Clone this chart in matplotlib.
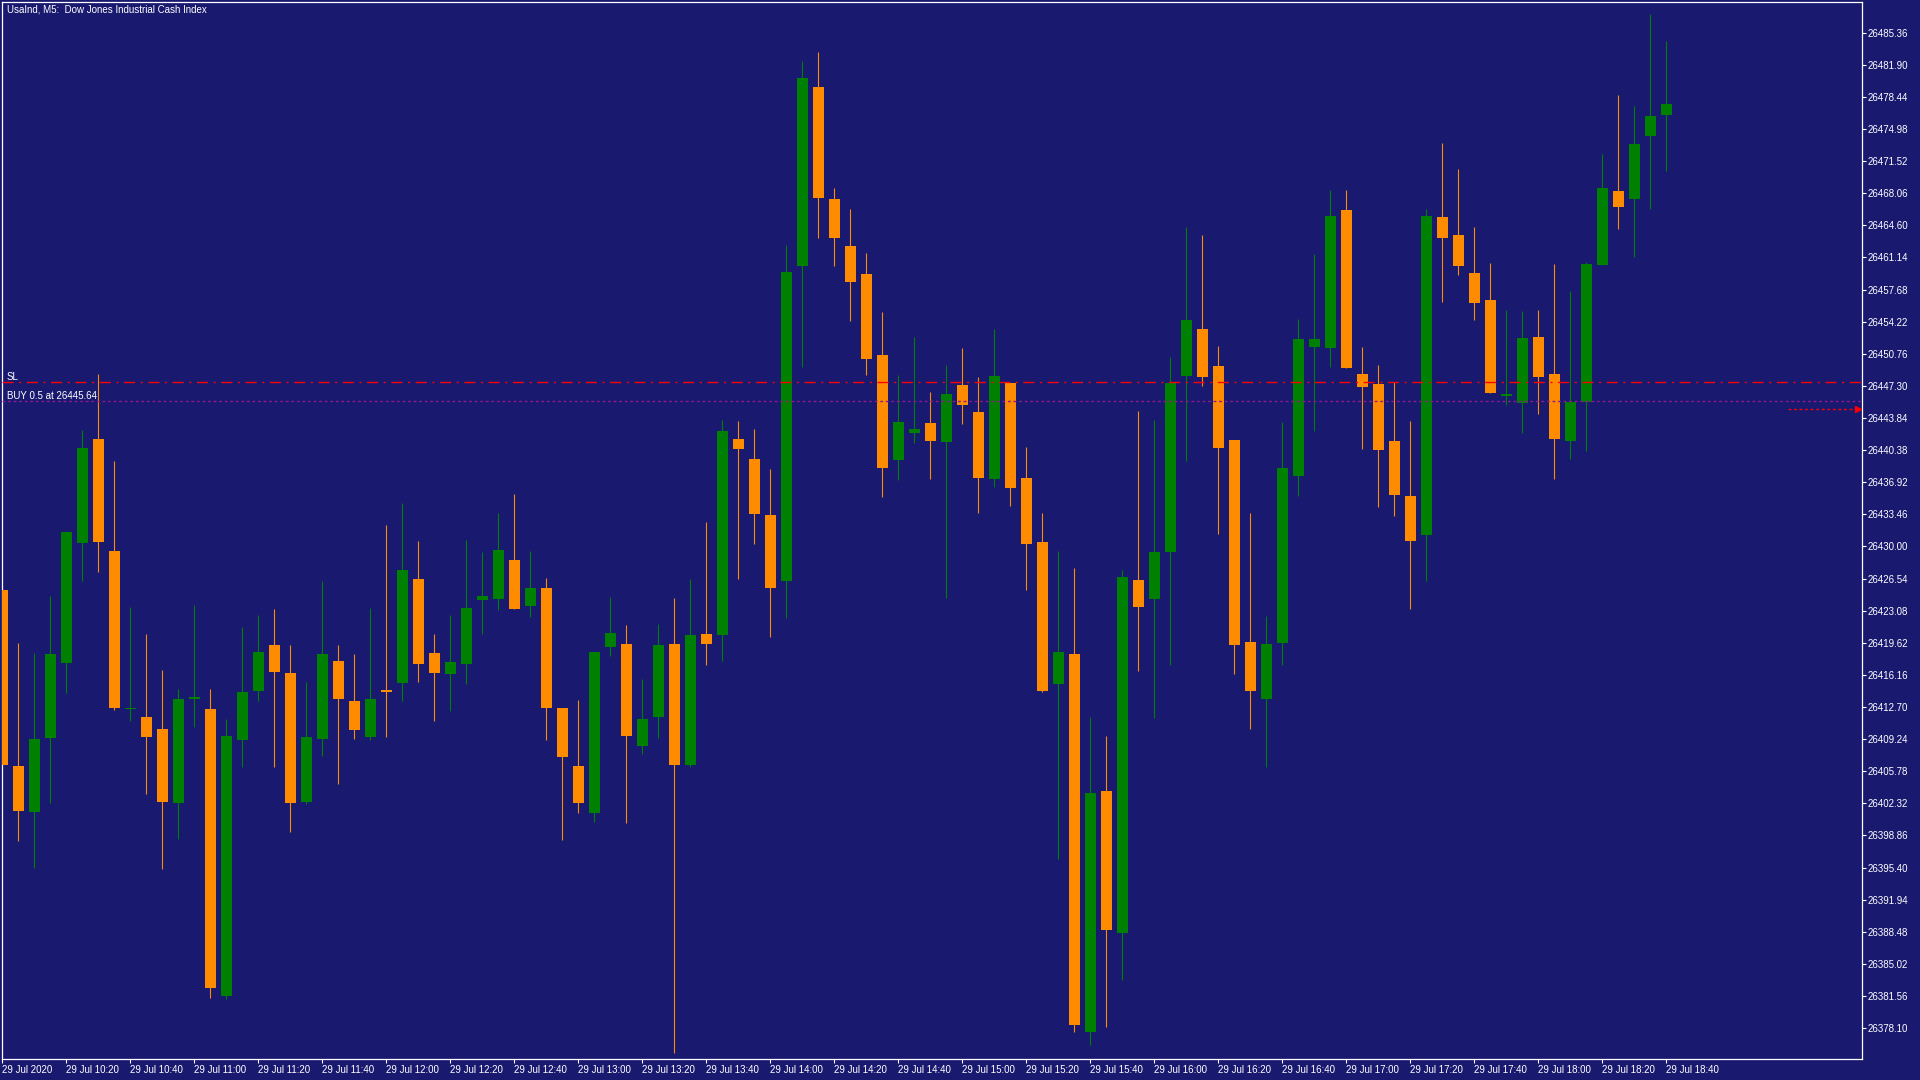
import matplotlib
matplotlib.use('Agg')
import matplotlib.pyplot as plt

plt.rcParams['font.family'] = ['Liberation Sans', 'DejaVu Sans']

# UsaInd M5 candles, 29 Jul 2020 10:00 .. 18:40
opens = [
    26425.30, 26406.34, 26401.41, 26409.39, 26417.47, 26430.40, 26441.57, 26429.51, 26412.45, 26411.62,
    26410.32, 26402.35, 26413.58, 26412.48, 26381.58, 26409.17, 26414.42, 26419.38, 26416.36, 26402.49,
    26409.28, 26417.65, 26413.34, 26409.49, 26414.47, 26415.31, 26426.49, 26418.51, 26416.28, 26417.36,
    26424.26, 26424.37, 26428.53, 26423.61, 26425.52, 26412.59, 26406.34, 26401.30, 26419.19, 26419.48,
    26408.50, 26411.58, 26419.44, 26406.40, 26420.56, 26420.42, 26441.60, 26439.42, 26433.38, 26426.24,
    26460.24, 26479.53, 26467.47, 26462.37, 26459.35, 26450.63, 26439.31, 26442.24, 26443.31, 26441.26,
    26447.41, 26444.48, 26437.26, 26447.61, 26437.36, 26430.48, 26415.18, 26418.42, 26377.63, 26403.64,
    26388.33, 26426.37, 26424.33, 26429.42, 26448.37, 26453.39, 26449.45, 26441.43, 26419.67, 26413.55,
    26419.57, 26437.58, 26451.50, 26451.37, 26466.24, 26448.60, 26447.51, 26441.35, 26435.45, 26431.23,
    26465.52, 26463.57, 26459.46, 26456.55, 26446.23, 26445.49, 26452.57, 26448.58, 26441.39, 26445.59,
    26460.36, 26468.30, 26467.47, 26474.26, 26476.52]
highs = [
    26425.30, 26419.59, 26418.51, 26424.66, 26431.66, 26442.54, 26448.58, 26439.20, 26423.47, 26420.56,
    26416.68, 26414.63, 26423.69, 26414.63, 26411.40, 26421.32, 26422.61, 26423.25, 26419.38, 26415.39,
    26426.27, 26419.38, 26418.41, 26423.36, 26432.31, 26434.68, 26430.58, 26420.56, 26422.61, 26430.69,
    26429.40, 26433.60, 26435.65, 26429.51, 26426.59, 26412.59, 26413.45, 26418.62, 26424.55, 26421.53,
    26415.72, 26421.61, 26424.42, 26426.45, 26432.62, 26443.62, 26443.48, 26442.65, 26438.36, 26462.48,
    26482.33, 26483.31, 26468.59, 26466.40, 26461.62, 26455.26, 26448.47, 26452.57, 26446.63, 26449.56,
    26451.36, 26448.24, 26453.43, 26447.61, 26440.72, 26433.60, 26429.47, 26427.68, 26411.60, 26409.57,
    26427.45, 26444.60, 26443.59, 26450.41, 26464.40, 26463.57, 26451.61, 26441.43, 26433.60, 26422.52,
    26443.43, 26454.49, 26461.53, 26468.42, 26468.42, 26451.50, 26449.56, 26447.69, 26443.52, 26466.38,
    26473.46, 26470.69, 26464.42, 26460.54, 26455.47, 26455.37, 26455.47, 26460.43, 26457.52, 26460.65,
    26472.29, 26478.64, 26477.46, 26487.37, 26484.46]
lows = [
    26406.44, 26398.29, 26395.38, 26402.38, 26414.24, 26426.30, 26427.27, 26412.40, 26411.22, 26403.35,
    26395.27, 26398.50, 26410.57, 26381.37, 26381.26, 26406.26, 26413.34, 26406.26, 26399.26, 26402.27,
    26407.45, 26404.43, 26409.28, 26409.17, 26409.49, 26413.37, 26415.42, 26411.22, 26412.30, 26415.21,
    26420.59, 26423.18, 26423.29, 26422.42, 26409.17, 26398.39, 26401.30, 26400.33, 26418.22, 26400.23,
    26407.59, 26409.41, 26375.41, 26406.26, 26417.26, 26417.62, 26426.45, 26430.24, 26420.28, 26422.24,
    26449.30, 26463.26, 26460.24, 26454.32, 26448.50, 26435.30, 26437.16, 26441.16, 26437.26, 26424.42,
    26443.17, 26433.60, 26436.43, 26434.33, 26425.30, 26414.32, 26396.35, 26377.63, 26376.32, 26378.17,
    26383.25, 26416.56, 26411.48, 26417.27, 26439.22, 26447.30, 26431.39, 26416.26, 26410.35, 26406.24,
    26417.22, 26435.45, 26442.44, 26449.32, 26449.24, 26440.49, 26434.27, 26433.28, 26423.24, 26426.28,
    26456.36, 26459.26, 26454.40, 26446.53, 26445.27, 26442.25, 26444.30, 26437.30, 26439.45, 26440.31,
    26460.36, 26464.24, 26461.22, 26466.39, 26470.49]
closes = [
    26406.44, 26401.52, 26409.25, 26418.41, 26431.55, 26440.60, 26430.51, 26412.62, 26412.55, 26409.46,
    26402.46, 26413.56, 26413.68, 26382.45, 26409.57, 26414.31, 26418.62, 26416.47, 26402.38, 26409.46,
    26418.41, 26413.56, 26410.25, 26413.56, 26414.37, 26427.46, 26417.36, 26416.39, 26417.54, 26423.36,
    26424.66, 26429.61, 26423.29, 26425.52, 26412.62, 26407.34, 26402.38, 26418.62, 26420.67, 26409.60,
    26411.38, 26419.37, 26406.40, 26420.42, 26419.44, 26442.44, 26440.48, 26433.46, 26425.54, 26459.54,
    26480.51, 26467.53, 26463.26, 26458.52, 26450.23, 26438.43, 26443.41, 26442.63, 26441.36, 26446.43,
    26445.22, 26437.36, 26448.34, 26436.28, 26430.23, 26414.42, 26418.59, 26378.41, 26403.41, 26388.63,
    26426.67, 26423.44, 26429.42, 26447.60, 26454.42, 26448.26, 26440.60, 26419.38, 26414.41, 26419.48,
    26438.44, 26452.36, 26452.36, 26465.60, 26449.24, 26447.20, 26440.39, 26435.54, 26430.59, 26465.60,
    26463.26, 26460.22, 26456.23, 26446.53, 26446.33, 26452.46, 26448.29, 26441.61, 26445.56, 26460.43,
    26468.62, 26466.61, 26473.36, 26476.38, 26477.67]

time_labels = ['29 Jul 2020', '29 Jul 10:20', '29 Jul 10:40', '29 Jul 11:00', '29 Jul 11:20',
               '29 Jul 11:40', '29 Jul 12:00', '29 Jul 12:20', '29 Jul 12:40', '29 Jul 13:00',
               '29 Jul 13:20', '29 Jul 13:40', '29 Jul 14:00', '29 Jul 14:20', '29 Jul 14:40',
               '29 Jul 15:00', '29 Jul 15:20', '29 Jul 15:40', '29 Jul 16:00', '29 Jul 16:20',
               '29 Jul 16:40', '29 Jul 17:00', '29 Jul 17:20', '29 Jul 17:40', '29 Jul 18:00',
               '29 Jul 18:20', '29 Jul 18:40']
price_ticks = [26485.36, 26481.90, 26478.44, 26474.98, 26471.52, 26468.06, 26464.60, 26461.14,
               26457.68, 26454.22, 26450.76, 26447.30, 26443.84, 26440.38, 26436.92, 26433.46,
               26430.00, 26426.54, 26423.08, 26419.62, 26416.16, 26412.70, 26409.24, 26405.78,
               26402.32, 26398.86, 26395.40, 26391.94, 26388.48, 26385.02, 26381.56, 26378.10]

sl_price = 26447.69
buy_price = 26445.64
buy_label = 'BUY 0.5 at 26445.64'
marker_price = 26444.80

bg = '#191970'
bull = '#008000'
bear = '#ff8c00'

fig = plt.figure(figsize=(19.2, 10.8), dpi=100, facecolor=bg)
ax = fig.add_axes([2 / 1920, 21 / 1080, 1860 / 1920, 1057 / 1080], facecolor=bg)

n = len(opens)
idx = list(range(n))
cols = [bull if closes[i] >= opens[i] else bear for i in idx]
bottoms = [min(opens[i], closes[i]) for i in idx]
heights = [max(abs(closes[i] - opens[i]), 0.15) for i in idx]

ax.vlines(idx, lows, highs, colors=cols, linewidth=0.8, zorder=2)
ax.bar(idx, heights, bottom=bottoms, width=0.69, color=cols, linewidth=0, zorder=3)

# order lines
ax.axhline(sl_price, color='#ff0000', linewidth=1.0, dashes=(8, 4, 1.5, 4), zorder=4)
ax.axhline(buy_price, color='#8b1a8b', linewidth=1.0, dashes=(2, 2), zorder=4)
ax.text(0.0027, sl_price + 0.25, 'SL', color='white', fontsize=7, va='baseline',
        transform=ax.get_yaxis_transform(), zorder=5)
ax.text(0.0027, buy_price + 0.25, buy_label, color='white', fontsize=7, va='baseline',
        transform=ax.get_yaxis_transform(), zorder=5)
ax.plot([111.6, 115.9], [marker_price, marker_price], color='#ff0000', linewidth=1.0,
        dashes=(2, 2), zorder=4)
ax.plot([116.0], [marker_price], marker='>', color='#ff0000', markersize=4, zorder=5)

ax.set_xlim(-0.031, 116.22)
ax.set_ylim(26374.77, 26488.67)

ax.yaxis.tick_right()
ax.set_yticks(price_ticks, labels=[f'{v:.2f}' for v in price_ticks])
ax.set_xticks(idx[::4], labels=time_labels)
for lbl in ax.get_xticklabels():
    lbl.set_horizontalalignment('left')
ax.tick_params(axis='both', colors='white', direction='out', length=3, width=0.8, labelsize=7)
ax.tick_params(axis='y', pad=1)
ax.tick_params(axis='x', pad=1.5)
for s in ax.spines.values():
    s.set_color('white')
    s.set_linewidth(0.9)

fig.text(7 / 1920, 1 - 13 / 1080, 'UsaInd, M5:  Dow Jones Industrial Cash Index',
         color='white', fontsize=7, va='baseline', ha='left')

fig.savefig('out.png', dpi=100, facecolor=bg)
